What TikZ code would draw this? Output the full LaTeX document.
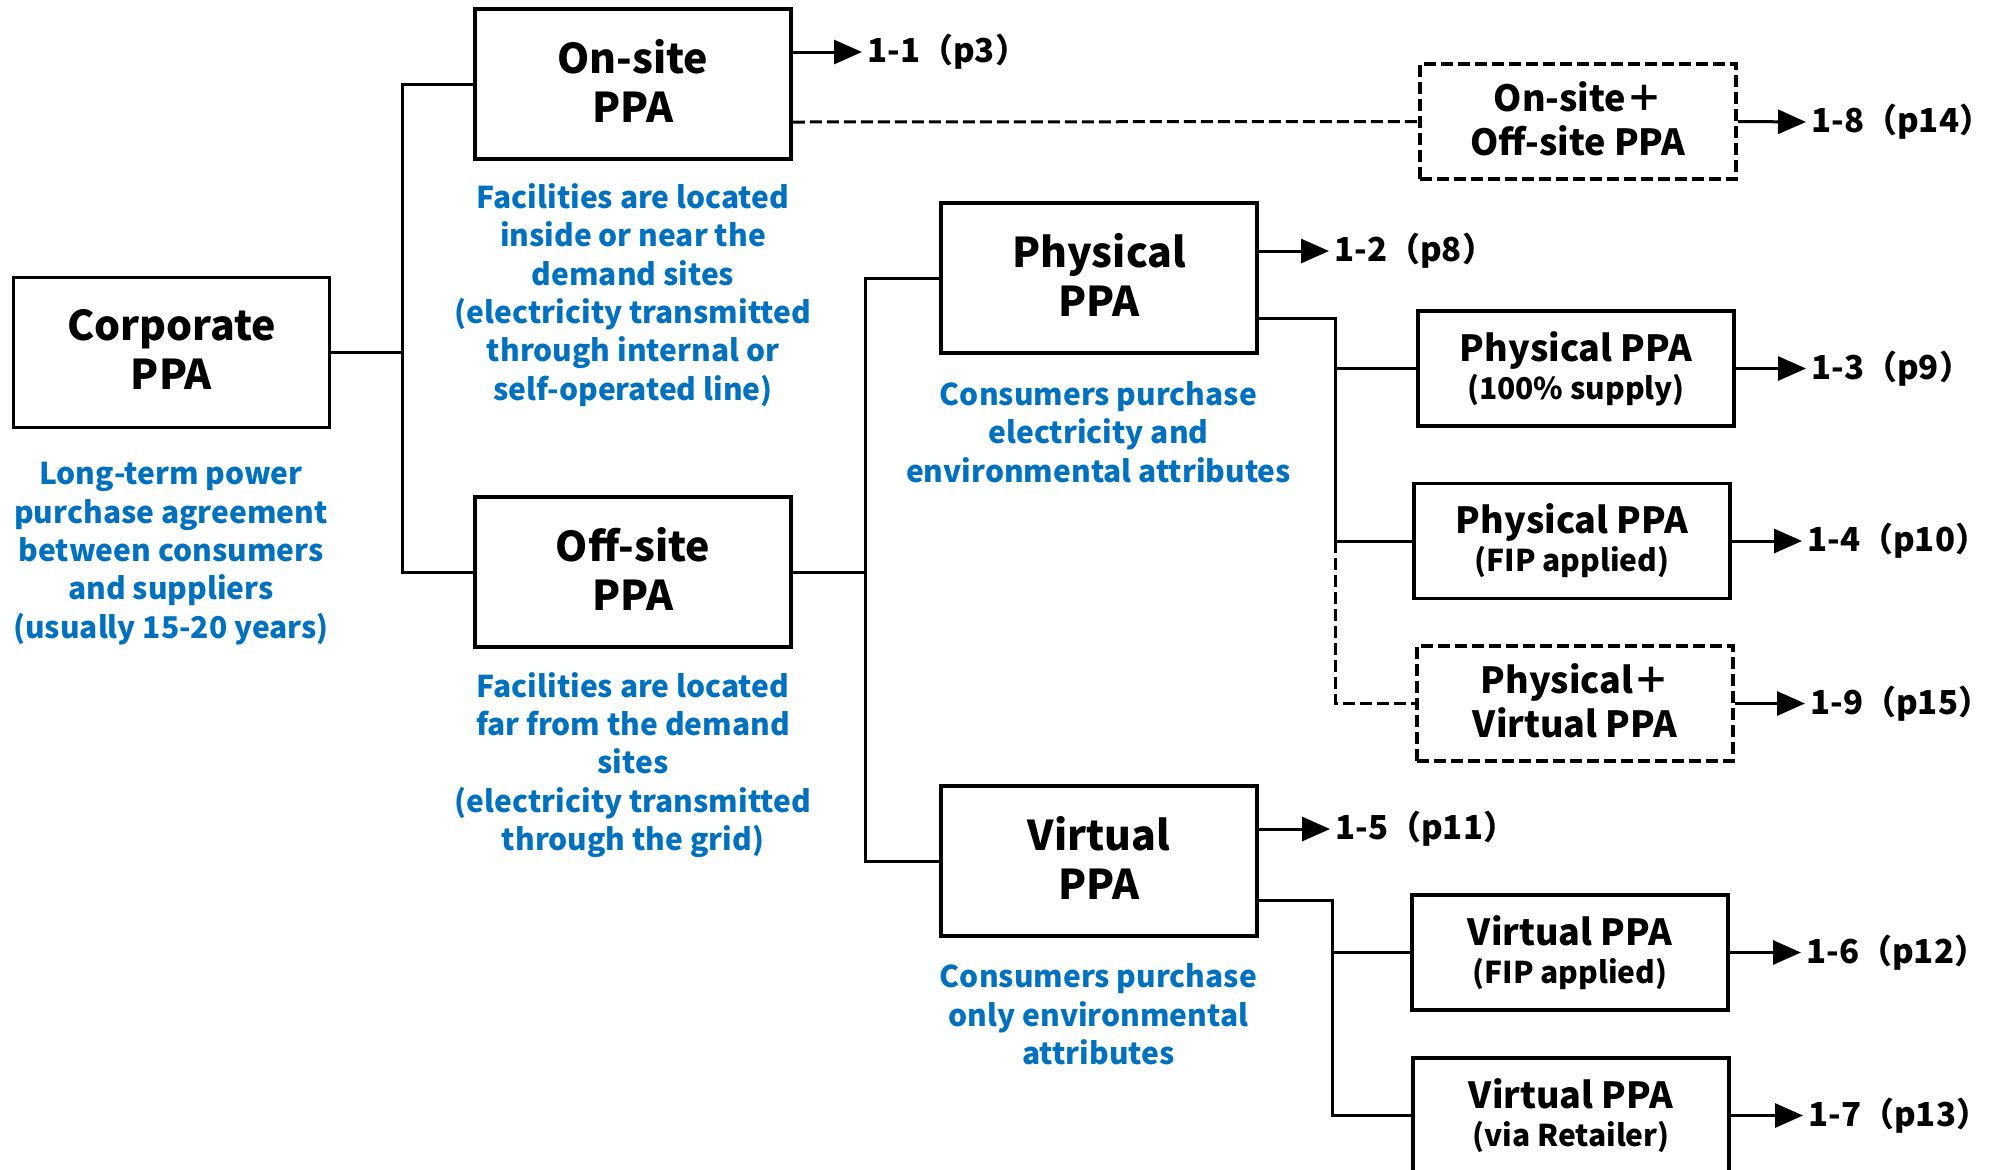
\documentclass[tikz,border=0pt]{standalone}
\usepackage{fontspec}
\setmainfont{Noto Sans CJK JP}
\usetikzlibrary{arrows.meta}
\definecolor{descblue}{HTML}{0070C0}
\newcommand{\lowpad}[1]{\rule[-#1]{0pt}{0pt}}
\begin{document}
\begin{tikzpicture}[x=0.5pt,y=-0.5pt,
  bigbox/.style={draw, line width=1.8pt, minimum width=158pt, minimum height=75pt, align=center, inner sep=0pt, font=\fontsize{20.5}{24.7}\selectfont\bfseries},
  smallbox/.style={draw, line width=1.8pt, minimum width=158pt, minimum height=57.5pt, align=center, inner sep=0pt, font=\fontsize{18}{19}\selectfont\bfseries},
  dashbox/.style={smallbox, dash pattern=on 6pt off 2.5pt, font=\fontsize{18}{22}\selectfont\bfseries},
  desc/.style={text=descblue, align=center, inner sep=0pt, font=\fontsize{15}{19.2}\selectfont\bfseries},
  reflabel/.style={anchor=west, inner sep=0pt, font=\fontsize{16.5}{20}\selectfont\bfseries},
  conn/.style={line width=1.5pt},
  dconn/.style={conn, dash pattern=on 6pt off 2.5pt},
  arr/.style={line width=1.5pt, -{Triangle[length=14pt,width=12pt]}, shorten >=2.5pt}
]
\useasboundingbox (0,0) rectangle (1989,1169);

% main boxes
\node[bigbox] (corp) at (171.5,352.5) {Corporate\\PPA\lowpad{3pt}};
\node[bigbox] (onsite) at (633,84) {On-site\\PPA\lowpad{3pt}};
\node[bigbox] (offsite) at (633,572) {Off-site\\PPA\lowpad{3pt}};
\node[bigbox] (phys) at (1099,278) {Physical\\PPA\lowpad{3pt}};
\node[bigbox] (virt) at (1099,861) {Virtual\\PPA\lowpad{3pt}};

% small boxes
\node[dashbox] (onoff) at (1578,121.5) {On-site＋\\Off-site PPA\lowpad{2.5pt}};
\node[smallbox] (phys100) at (1576,368.5) {Physical PPA\\{\fontsize{15}{16}\selectfont (100\% supply)}};
\node[smallbox] (physfip) at (1572,541) {Physical PPA\\{\fontsize{15}{16}\selectfont (FIP applied)}};
\node[dashbox] (physvirt) at (1575,703.5) {Physical＋\\Virtual PPA\lowpad{2.5pt}};
\node[smallbox] (virtfip) at (1570,952.5) {Virtual PPA\\{\fontsize{15}{16}\selectfont (FIP applied)}};
\node[smallbox] (virtret) at (1571,1115.5) {Virtual PPA\\{\fontsize{15}{16}\selectfont (via Retailer)}};

% descriptions
\node[desc] (d0) at (171,553.5) {Long-term power\\purchase agreement\\between consumers\\and suppliers\\(usually 15-20 years)};
\node[desc] (d1) at (633,295) {Facilities are located\\inside or near the\\demand sites\\(electricity transmitted\\through internal or\\self-operated line)};
\node[desc] (d2) at (633,765) {Facilities are located\\far from the demand\\sites\\(electricity transmitted\\through the grid)};
\node[desc] (d3) at (1098.5,432) {Consumers purchase\\electricity and\\environmental attributes};
\node[desc] (d4) at (1098.5,1014.5) {Consumers purchase\\only environmental\\attributes};

% reference labels
\node[reflabel] (l11) at (867,52) {1-1（p3）};
\node[reflabel] (l18) at (1811,122) {1-8（p14）};
\node[reflabel] (l12) at (1334,251) {1-2（p8）};
\node[reflabel] (l13) at (1811,368.5) {1-3（p9）};
\node[reflabel] (l14) at (1807,541) {1-4（p10）};
\node[reflabel] (l19) at (1810,703.5) {1-9（p15）};
\node[reflabel] (l15) at (1335,829) {1-5（p11）};
\node[reflabel] (l16) at (1806,952.5) {1-6（p12）};
\node[reflabel] (l17) at (1808,1115.5) {1-7（p13）};

% trunk coordinates
\coordinate (t1) at (402,352.5);
\coordinate (t2) at (865.5,572);
\coordinate (pt) at (1335,318);
\coordinate (vt) at (1332,900);

% connectors
\draw[conn] (corp.east) -- (t1);
\draw[conn] (onsite.west) -| (t1) |- (offsite.west);
\draw[conn] (offsite.east) -- (t2);
\draw[conn] (phys.west) -| (t2) |- (virt.west);
\draw[dconn] ([yshift=-19pt]onsite.east) -- (onoff.west);

\draw[conn] ([yshift=-20pt]phys.east) -- (pt) |- (physfip.west);
\draw[conn] (pt |- phys100.west) -- (phys100.west);
\draw[dconn] (pt |- physfip.west) |- (physvirt.west);

\draw[conn] ([yshift=-19.5pt]virt.east) -- (vt) |- (virtret.west);
\draw[conn] (vt |- virtfip.west) -- (virtfip.west);

% arrows
\draw[arr] ([yshift=16pt]onsite.east) -- (l11.west |- 0,52);
\draw[arr] (onoff.east) -- (l18.west);
\draw[arr] ([yshift=13.5pt]phys.east) -- (l12.west |- 0,251);
\draw[arr] (phys100.east) -- (l13.west);
\draw[arr] (physfip.east) -- (l14.west);
\draw[arr] (physvirt.east) -- (l19.west);
\draw[arr] ([yshift=16pt]virt.east) -- (l15.west |- 0,829);
\draw[arr] (virtfip.east) -- (l16.west);
\draw[arr] (virtret.east) -- (l17.west);
\end{tikzpicture}
\end{document}
